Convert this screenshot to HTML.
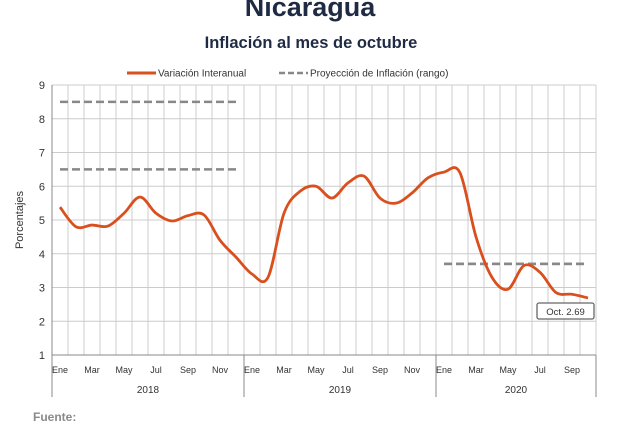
<!DOCTYPE html>
<html><head><meta charset="utf-8"><style>
body{margin:0;width:640px;height:424px;background:#fff;overflow:hidden;font-family:"Liberation Sans",sans-serif}
svg text{font-family:"Liberation Sans",sans-serif}
</style></head><body>
<svg width="640" height="424">
<text x="310" y="16" text-anchor="middle" font-size="27" font-weight="bold" fill="#1f2a44">Nicaragua</text>
<text x="311" y="48" text-anchor="middle" font-size="16.5" font-weight="bold" fill="#1f2a44">Inflación al mes de octubre</text>
<g font-size="10" fill="#333">
<line x1="127" y1="73" x2="156" y2="73" stroke="#d9501e" stroke-width="3"/>
<text x="158" y="76.5">Variación Interanual</text>
<line x1="279" y1="73" x2="308" y2="73" stroke="#888" stroke-width="2.5" stroke-dasharray="6,3"/>
<text x="310" y="76.5">Proyección de Inflación (rango)</text>
</g>
<text transform="translate(23,220) rotate(-90)" text-anchor="middle" font-size="11" fill="#333">Porcentajes</text>
<g id="grid"></g><g id="axes"></g><g id="marks"></g>
<g>
<rect x="537" y="303" width="57" height="16" rx="2" fill="#fff" stroke="#666" stroke-width="1.3"/>
<text x="565.5" y="315" text-anchor="middle" font-size="9.5" fill="#333">Oct. 2.69</text>
</g>
<text x="33" y="421" font-size="12" font-weight="bold" fill="#8a8a8a">Fuente:</text>
</svg>
<script>
const months=["Ene","Feb","Mar","Abr","May","Jun","Jul","Ago","Sep","Oct","Nov","Dic"];
const years=["2018","2019","2020"];
const yearCounts=[12,12,10];
const inflation=[5.38,4.8,4.85,4.82,5.2,5.68,5.2,4.97,5.13,5.15,4.4,3.9,
3.4,3.3,5.2,5.85,6.0,5.65,6.1,6.3,5.65,5.5,5.8,6.25,
6.42,6.4,4.5,3.3,2.95,3.65,3.45,2.85,2.8,2.69];
const projHigh=[8.5,null,3.7];
const projLow=[6.5,null,3.7];
const yTicks=[1,2,3,4,5,6,7,8,9];
const NS="http://www.w3.org/2000/svg";
const L=52,R=596,T=85,B=355,N=inflation.length,W=(R-L)/N;
const xs=i=>L+W*(i+0.5), ys=v=>B-(v-1)*(B-T)/8;
function mk(t,a,p){const e=document.createElementNS(NS,t);for(const k in a)e.setAttribute(k,a[k]);p.appendChild(e);return e;}
const grid=document.getElementById('grid'),axes=document.getElementById('axes'),marks=document.getElementById('marks');
yTicks.forEach(v=>{const l=mk('line',{x1:L,x2:R,y1:ys(v),y2:ys(v),stroke:'#ccc','stroke-width':1},grid);

const t=mk('text',{x:L-7,y:ys(v)+4,'text-anchor':'end','font-size':11,fill:'#333'},axes);t.textContent=v;
});
for(let i=1;i<=N;i++){const l=mk('line',{x1:L+W*i,x2:L+W*i,y1:T,y2:B,stroke:'#ccc','stroke-width':1},grid);
}
mk('line',{x1:L,x2:L,y1:T,y2:B,stroke:'#888'},axes);
mk('line',{x1:L,x2:R,y1:B,y2:B,stroke:'#888'},axes);
let idx=0;
years.forEach((y,k)=>{const c=yearCounts[k];const x0=L+W*idx,x1=L+W*(idx+c);
mk('line',{x1:x0,x2:x0,y1:B,y2:397,stroke:'#888'},axes);
if(k===years.length-1)mk('line',{x1:x1,x2:x1,y1:B,y2:397,stroke:'#888'},axes);
const yt=mk('text',{x:(x0+x1)/2,y:393,'text-anchor':'middle','font-size':10,fill:'#333'},axes);yt.textContent=y;

for(let m=0;m<c;m+=2){const t=mk('text',{x:xs(idx+m),y:373,'text-anchor':'middle','font-size':9,fill:'#333'},axes);t.textContent=months[m];
}
if(projHigh[k]!=null){[projHigh[k],projLow[k]].forEach(v=>{const l=mk('line',{x1:xs(idx),x2:xs(idx+c-1),y1:ys(v),y2:ys(v),stroke:'#888','stroke-width':2.5,'stroke-dasharray':'8,4'},marks);
});}
idx+=c;});
const P=inflation.map((v,i)=>[xs(i),ys(v)]);
let d=`M${P[0][0]},${P[0][1]}`;
for(let i=0;i<P.length-1;i++){const p0=P[i-1]||P[i],p1=P[i],p2=P[i+1],p3=P[i+2]||p2;
d+=` C${p1[0]+(p2[0]-p0[0])/6},${p1[1]+(p2[1]-p0[1])/6} ${p2[0]-(p3[0]-p1[0])/6},${p2[1]-(p3[1]-p1[1])/6} ${p2[0]},${p2[1]}`;}
const ln=mk('path',{d:d,fill:'none',stroke:'#d9501e','stroke-width':2.8},marks);

</script>
</body></html>
